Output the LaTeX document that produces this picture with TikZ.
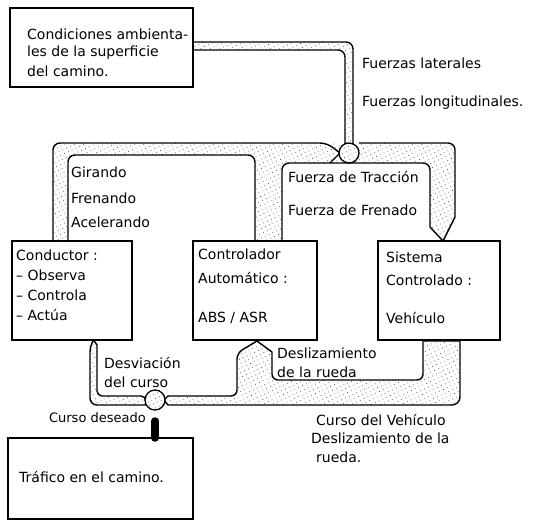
\documentclass[tikz,border=0pt]{standalone}
\usepackage{fontspec}
\setmainfont{DejaVu Sans}
\usetikzlibrary{positioning,calc,patterns.meta}

\begin{document}
\begin{tikzpicture}[
            x=1pt, y=-1pt,
            box/.style={rectangle, draw, line width=1.1pt, inner sep=0pt, outer sep=0pt},
            txt/.style={anchor=west, inner sep=0pt, font=\fontsize{14}{16}\selectfont},
            band/.style={line width=1.4pt, rounded corners=7pt, pattern={Dots[distance=4.2pt, radius=0.5pt, angle=25]}, pattern color=black!70},
            bandfill/.style={rounded corners=7pt, pattern={Dots[distance=4.2pt, radius=0.5pt, angle=25]}, pattern color=black!70},
            bandline/.style={line width=1.4pt, rounded corners=7pt},
            sum/.style={circle, draw, line width=1.3pt, minimum size=20pt, inner sep=0pt, preaction={fill=white}, pattern={Dots[distance=4.2pt, radius=0.5pt, angle=25]}, pattern color=black!70},
            stub/.style={line width=7.5pt, line cap=round}
        ]
            \useasboundingbox (0,0) rectangle (559,522);

            % Blocks
            \node[box, minimum width=183pt, minimum height=79pt] (cond) at (101.5,47.5) {};
            \node[box, minimum width=120pt, minimum height=99pt] (driver) at (72,290.5) {};
            \node[box, minimum width=124pt, minimum height=99pt] (ctrl) at (255,290.5) {};
            \node[box, minimum width=122pt, minimum height=99pt] (plant) at (439,290.5) {};
            \node[box, minimum width=185pt, minimum height=81pt] (traffic) at (100.5,478.5) {};

            % Upper channels
            \path[bandfill] (cond.east |- 0,42) -- (353,42) -- (353,146) -- (345,146) -- (345,50) -- (cond.east |- 0,50) -- cycle;
            \draw[bandline] (cond.east |- 0,42) -- (353,42) -- (353,144);
            \draw[bandline] (cond.east |- 0,50) -- (345,50) -- (345,144);

            \path[bandfill] (53,241) -- (53,143) -- (455,143) [sharp corners] -- (455,217) -- (443,241) -- (430,227) [rounded corners=6pt] -- (430,163) -- (282,163) -- (282,241) -- (255,241) -- (255,155) -- (68,155) -- (68,241) -- cycle;
            \draw[bandline] (53,241) -- (53,143) -- (327,143) [sharp corners] -- (340,153) -- (330,163);
            \draw[bandline] (282,241) -- (282,163) -- (430,163) [sharp corners] -- (430,227) -- (443,241) -- (455,217) [rounded corners=7pt] -- (455,143) -- (359,143);
            \draw[bandline] (68,241) -- (68,155) -- (255,155) -- (255,241);

            % Lower channels
            \draw[band] (90,345) [sharp corners] -- (93.5,340) -- (97,345) [rounded corners=5pt] -- (97,396) -- (146,396) [sharp corners] -- (146,405) [rounded corners=7pt] -- (90,405) -- cycle;
            \draw[band] (164,400) [sharp corners] -- (168,396) [rounded corners=6pt] -- (237,396) -- (237,353) [sharp corners] -- (257,341) -- (272,352) [rounded corners=6pt] -- (272,380) -- (423,380) [sharp corners] -- (423,341) -- (460,341) [rounded corners=8pt] -- (460,405) [sharp corners] -- (168,405) -- cycle;

            % Summing points
            \node[sum] (sumA) at (349,153) {};
            \node[sum] (sumB) at (155,400) {};
            \draw[stub] (sumB |- traffic.north) -- (155,421);

            % Block texts
            \node[txt] (condA) at (27,34) {Condiciones ambienta-};
            \node[txt] (condB) at (27,53) {les de la superficie};
            \node[txt] (condC) at (27,71) {del camino.};

            \node[txt] (drvA) at (16,255) {Conductor :};
            \node[txt] (drvB) at (16,275) {-- Observa};
            \node[txt] (drvC) at (16,295) {-- Controla};
            \node[txt] (drvD) at (16,315) {-- Actúa};

            \node[txt] (ctrlA) at (198,254) {Controlador};
            \node[txt] (ctrlB) at (198,278) {Automático :};
            \node[txt] (ctrlC) at (198,318) {ABS / ASR};

            \node[txt] (plantA) at (386,257) {Sistema};
            \node[txt] (plantB) at (386,280) {Controlado :};
            \node[txt] (plantC) at (386,318) {Vehículo};

            \node[txt] (trafA) at (19,477) {Tráfico en el camino.};

            % Signal labels
            \node[txt] (lat) at (362,63) {Fuerzas laterales};
            \node[txt] (lon) at (362,103) {Fuerzas longitudinales.};
            \node[txt] (turn) at (71,172) {Girando};
            \node[txt] (brake) at (71,198) {Frenando};
            \node[txt] (accel) at (71,222) {Acelerando};
            \node[txt] (trac) at (288,177) {Fuerza de Tracción};
            \node[txt] (fren) at (288,210) {Fuerza de Frenado};
            \node[txt] (devA) at (104,363) {Desviación};
            \node[txt] (devB) at (104,382) {del curso};
            \node[txt, font=\fontsize{13}{15}\selectfont, anchor=east] (ref) at (146,418) {Curso deseado};
            \node[txt] (slipA) at (277,353) {Deslizamiento};
            \node[txt] (slipB) at (277,372) {de la rueda};
            \node[txt] (outA) at (316,420) {Curso del Vehículo};
            \node[txt] (outB) at (311,438) {Deslizamiento de la};
            \node[txt] (outC) at (316,457) {rueda.};
        \end{tikzpicture}
\end{document}
